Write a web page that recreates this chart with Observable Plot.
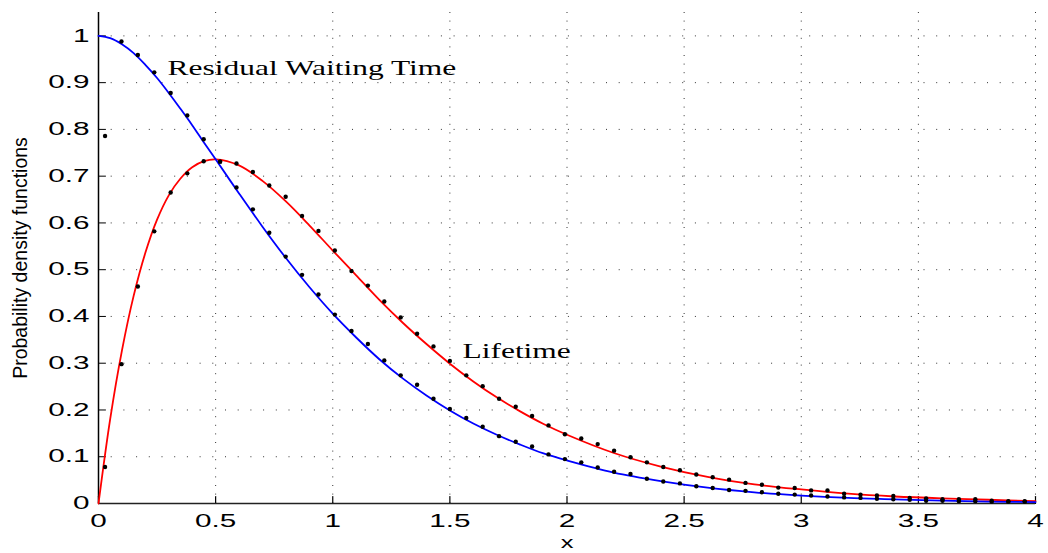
<!DOCTYPE html>
<html><head><meta charset="utf-8">
<script src="https://cdn.jsdelivr.net/npm/d3@7"></script>
<script src="https://cdn.jsdelivr.net/npm/@observablehq/plot@0.6"></script>
<style>
html,body{margin:0;padding:0;background:#fff;}
#chart svg{display:block;}
</style></head><body><div id="chart"></div>
<script>
// Smooth density curves
const curveX = [0,0.05,0.1,0.15,0.2,0.25,0.3,0.35,0.4,0.45,0.5,0.6,0.7,0.8,0.9,1.0,1.1,1.2,1.3,1.4,1.5,1.6,1.7,1.8,1.9,2.0,2.2,2.4,2.6,2.8,3.0,3.2,3.4,3.6,3.8,4.0];
const lifetimeY = [0,0.181,0.327,0.444,0.536,0.607,0.659,0.695,0.719,0.732,0.736,0.723,0.690,0.646,0.595,0.541,0.488,0.435,0.386,0.341,0.299,0.261,0.227,0.197,0.170,0.147,0.108,0.079,0.057,0.041,0.030,0.021,0.015,0.011,0.008,0.005];
const residualY = [1,0.995,0.982,0.963,0.938,0.910,0.878,0.844,0.809,0.772,0.736,0.663,0.592,0.525,0.463,0.406,0.355,0.308,0.267,0.231,0.199,0.171,0.147,0.126,0.107,0.092,0.066,0.048,0.034,0.024,0.017,0.012,0.009,0.006,0.004,0.003];

// Simulated sample points (black dots)
const sampleX = [0.028,0.098,0.168,0.238,0.308,0.379,0.449,0.519,0.589,0.659,0.729,0.799,0.869,0.939,1.009,1.080,1.150,1.220,1.290,1.360,1.430,1.500,1.570,1.640,1.710,1.781,1.851,1.921,1.991,2.061,2.131,2.201,2.271,2.341,2.411,2.482,2.552,2.622,2.692,2.762,2.832,2.902,2.972,3.042,3.112,3.183,3.253,3.323,3.393,3.463,3.533,3.603,3.673,3.743,3.813,3.884,3.954];
const lifetimeSamples = [0.078,0.298,0.464,0.582,0.665,0.706,0.732,0.731,0.727,0.709,0.680,0.656,0.615,0.583,0.541,0.497,0.466,0.432,0.398,0.363,0.336,0.305,0.274,0.251,0.224,0.207,0.187,0.167,0.148,0.139,0.127,0.113,0.099,0.088,0.078,0.071,0.062,0.056,0.051,0.044,0.040,0.034,0.033,0.028,0.028,0.021,0.019,0.017,0.016,0.012,0.011,0.009,0.009,0.009,0.006,0.005,0.005];
const residualSamples = [0.786,0.988,0.959,0.922,0.878,0.830,0.779,0.731,0.676,0.629,0.579,0.528,0.489,0.447,0.404,0.369,0.341,0.306,0.274,0.254,0.224,0.202,0.183,0.164,0.144,0.132,0.122,0.105,0.095,0.088,0.077,0.068,0.063,0.053,0.047,0.043,0.037,0.033,0.029,0.027,0.024,0.021,0.019,0.017,0.015,0.013,0.012,0.010,0.009,0.008,0.006,0.006,0.005,0.005,0.004,0.004,0.004];

// Ticks and labels
const xTicks = [0,0.5,1,1.5,2,2.5,3,3.5,4];
const xTickLabels = ["0","0.5","1","1.5","2","2.5","3","3.5","4"];
const yTicks = [0,0.1,0.2,0.3,0.4,0.5,0.6,0.7,0.8,0.9,1];
const yTickLabels = ["0","0.1","0.2","0.3","0.4","0.5","0.6","0.7","0.8","0.9","1"];
const xLabel = "x";
const yLabel = "Probability density functions";
const annotationText = ["Residual Waiting Time","Lifetime"];
const annotationX = [0.295,1.554];
const annotationY = [0.917,0.312];

const curve = curveX.map((x,i)=>({x, life: lifetimeY[i], res: residualY[i]}));
const samples = sampleX.map((x,i)=>({x, life: lifetimeSamples[i], res: residualSamples[i]}));
const annotations = annotationText.map((t,i)=>({text:t, x:annotationX[i], y:annotationY[i]}));

const lookup = (ticks, labels) => d => labels[ticks.findIndex(t => Math.abs(t - d) < 1e-9)];
const tickShape = {draw(context, l){ context.moveTo(0,0); context.lineTo(0,-l); }};

const chart = Plot.plot({
  width:1048, height:553,
  marginLeft:98, marginRight:13, marginTop:12, marginBottom:50,
  x:{domain:[0,4], label:null},
  y:{domain:[0,1.05], label:null},
  style:{fontFamily:"'Liberation Sans', Arial, sans-serif", fontSize:"18px", color:"#000", background:"#fff", overflow:"visible"},
  marks:[
    Plot.gridY(yTicks, {stroke:"#000", strokeOpacity:0.8, strokeDasharray:"1,11.7"}),
    Plot.gridX(xTicks, {stroke:"#000", strokeOpacity:0.8, strokeDasharray:"1,7.6"}),
    Plot.axisY(yTicks, {tickSize:0, tickPadding:9, tickFormat: lookup(yTicks, yTickLabels), fontSize:18, label:null}),
    Plot.axisX(xTicks, {tickSize:0, tickPadding:11, tickFormat: lookup(xTicks, xTickLabels), fontSize:18, label:null}),
    Plot.vector(yTicks, {x:0, y:d=>d, length:7, rotate:90, anchor:"start", shape:tickShape, stroke:"#000", strokeWidth:1}),
    Plot.vector(xTicks, {x:d=>d, y:0, length:7, rotate:0, anchor:"start", shape:tickShape, stroke:"#000", strokeWidth:1.2}),
    Plot.ruleX([0], {stroke:"#000", strokeWidth:1.5}),
    Plot.ruleY([0], {stroke:"#222", strokeWidth:1.5}),
    Plot.line(curve, {x:"x", y:"life", stroke:"#ff0000", strokeWidth:1.8, curve:"catmull-rom"}),
    Plot.line(curve, {x:"x", y:"res", stroke:"#0000ff", strokeWidth:1.8, curve:"catmull-rom"}),
    Plot.dot(samples, {x:"x", y:"life", r:2.2, fill:"#000"}),
    Plot.dot(samples, {x:"x", y:"res", r:2.2, fill:"#000"}),
    Plot.text(annotations, {x:"x", y:"y", text:"text", textAnchor:"start", lineAnchor:"bottom", fontFamily:"'Liberation Serif', 'Times New Roman', serif", fontSize:22, fill:"#000", ariaDescription:"annotations"}),
    Plot.text([yLabel], {frameAnchor:"left", dx:-78, rotate:-90, textAnchor:"middle", lineAnchor:"middle", text:d=>d, fontSize:19.5, fill:"#000", ariaDescription:"ylabel"}),
    Plot.text([xLabel], {frameAnchor:"bottom", dy:44, textAnchor:"middle", lineAnchor:"bottom", text:d=>d, fontSize:17, fill:"#000", ariaDescription:"xlabel"})
  ]
});
document.getElementById("chart").appendChild(chart);

function stretch(selector, s){
  chart.querySelectorAll(selector).forEach(t=>{
    const tr = t.getAttribute("transform");
    if (tr && tr.includes("translate")) {
      t.setAttribute("transform", tr + ` scale(${s},1)`);
    } else {
      const x = +(t.getAttribute("x")||0), y = +(t.getAttribute("y")||0);
      t.setAttribute("transform", `translate(${x},${y}) scale(${s},1) translate(${-x},${-y})`);
    }
  });
}
stretch('g[aria-label="y-axis tick label"] text', 1.65);
stretch('g[aria-label="x-axis tick label"] text', 1.65);
stretch('g[aria-description="annotations"] text', 1.43);
stretch('g[aria-description="xlabel"] text', 1.5);
</script></body></html>
